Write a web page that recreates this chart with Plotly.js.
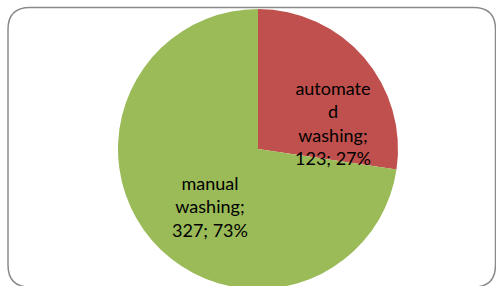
<!DOCTYPE html>
<html>
<head>
<meta charset="utf-8">
<script src="https://cdn.plot.ly/plotly-3.0.1.min.js"></script>
<style>
html,body{margin:0;padding:0;overflow:hidden;background:#fff;}
#chart{width:496px;height:292px;}
</style>
</head>
<body>
<div id="chart"></div>
<script>
var labels = ['automated washing', 'manual washing'];
var labelText = ['automate<br>d<br>washing;', 'manual<br>washing;'];
var values = [123, 327];
var colors = ['#C0504D', '#9BBB59'];

var W = 496, H = 292;
var trace = {
  type: 'pie',
  labels: labels,
  values: values,
  textinfo: 'none',
  textposition: 'none',
  sort: false,
  direction: 'clockwise',
  rotation: 0,
  marker: {colors: colors, line: {width: 0}},
  hoverinfo: 'none',
  showlegend: false,
  domain: {x: [118 / W, 398 / W], y: [1 - 289 / H, 1 - 9 / H]}
};

function px(x) { return x / W; }
function py(y) { return 1 - y / H; }
var x0 = 8, x1 = 495.5, y0 = 7.5, y1 = 287, r = 22;
var path = 'M' + px(x0 + r) + ',' + py(y0) +
  ' L' + px(x1 - r) + ',' + py(y0) +
  ' Q' + px(x1) + ',' + py(y0) + ' ' + px(x1) + ',' + py(y0 + r) +
  ' L' + px(x1) + ',' + py(y1 - r) +
  ' Q' + px(x1) + ',' + py(y1) + ' ' + px(x1 - r) + ',' + py(y1) +
  ' L' + px(x0 + r) + ',' + py(y1) +
  ' Q' + px(x0) + ',' + py(y1) + ' ' + px(x0) + ',' + py(y1 - r) +
  ' L' + px(x0) + ',' + py(y0 + r) +
  ' Q' + px(x0) + ',' + py(y0) + ' ' + px(x0 + r) + ',' + py(y0) + ' Z';

var total = values.reduce(function (a, b) { return a + b; }, 0);
var labelPos = [[333, 123], [210, 207]];
var annotations = values.map(function (v, i) {
  return {
    xref: 'paper', yref: 'paper',
    x: px(labelPos[i][0]), y: py(labelPos[i][1]),
    xanchor: 'center', yanchor: 'middle',
    text: labelText[i] + '<br>' + v + '; ' + Math.round(100 * v / total) + '%',
    showarrow: false,
    align: 'center',
    font: {family: 'Lato, "Open Sans", sans-serif', size: 18, color: '#000'}
  };
});

var layout = {
  width: W, height: H,
  margin: {l: 0, r: 0, t: 0, b: 0},
  paper_bgcolor: '#fff',
  annotations: annotations,
  shapes: [{type: 'path', xref: 'paper', yref: 'paper', path: path,
    line: {color: '#8a8a8a', width: 1.5}, fillcolor: 'rgba(0,0,0,0)', layer: 'below'}]
};
Plotly.newPlot('chart', [trace], layout, {staticPlot: true, displayModeBar: false});
</script>
</body>
</html>
